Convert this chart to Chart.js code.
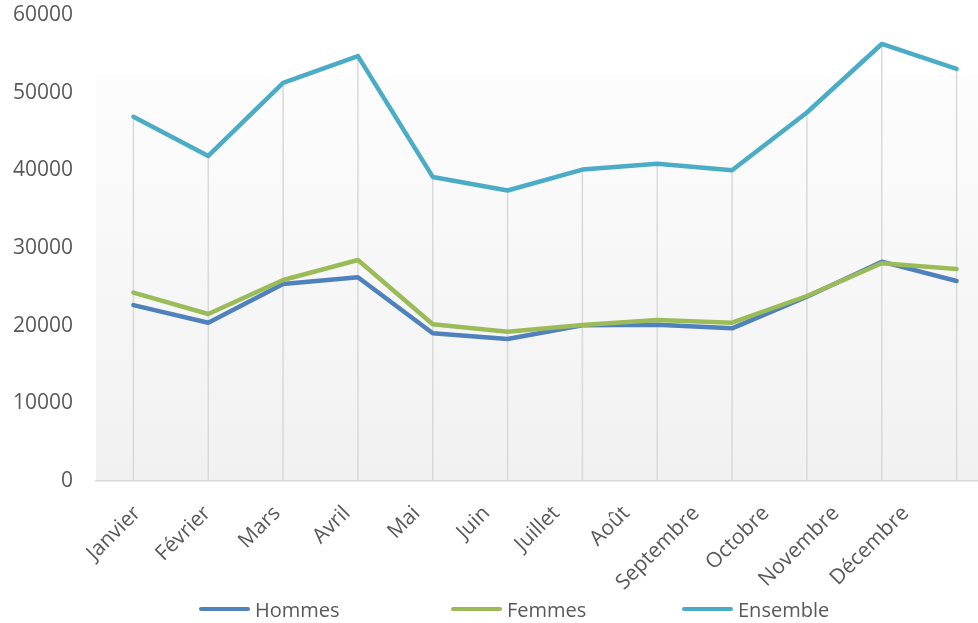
<!DOCTYPE html>
<html lang="fr">
<head>
    <meta charset="UTF-8">
    <script src="https://cdn.jsdelivr.net/npm/chart.js"></script>
    <style>
        body {
            margin: 0;
            background: #ffffff;
            font-family: "Open Sans", sans-serif;
        }

        #wrap {
            position: relative;
            width: 978px;
            height: 623px;
            overflow: hidden;
        }

        #legend {
            position: absolute;
            top: 597px;
            left: 0;
            height: 24px;
        }

        .legend-item {
            position: absolute;
            top: 0;
            display: flex;
            align-items: center;
            height: 24px;
            white-space: nowrap;
            font-size: 20px;
            color: #595959;
        }

        .legend-item span.swatch {
            display: inline-block;
            width: 51px;
            height: 4.5px;
            border-radius: 3px;
            margin-right: 5px;
        }
    </style>
    <title>Hommes, Femmes, Ensemble par mois</title>
</head>
<body>
    <div id="wrap">
        <canvas id="chart" width="1065" height="623"></canvas>
        <div id="legend"></div>
    </div>
    <script>
        // data
        const months = ["Janvier", "Février", "Mars", "Avril", "Mai", "Juin",
            "Juillet", "Août", "Septembre", "Octobre", "Novembre", "Décembre"];
        const hommes = [22650, 20380, 25370, 26230, 19020, 18280, 20050, 20120, 19660, 23730, 28240, 25750];
        const femmes = [24250, 21500, 25880, 28460, 20180, 19220, 20100, 20730, 20380, 23820, 28030, 27300];
        const ensemble = [46900, 41850, 51250, 54700, 39150, 37400, 40100, 40850, 40000, 47450, 56270, 53050];
        const seriesNames = ["Hommes", "Femmes", "Ensemble"];
        const seriesColors = ["#4f81bd", "#9bbb59", "#4bacc6"];
        const legendLefts = [199, 451, 682];

        const textColor = "#595959";
        const lineColor = "#d9d9d9";

        // soft grey gradient behind the plot
        const plotBackground = {
            id: "plotBackground",
            beforeDraw(chart) {
                const { ctx, chartArea } = chart;
                const g = ctx.createLinearGradient(0, chartArea.top, 0, chartArea.bottom);
                g.addColorStop(0, "#ffffff");
                g.addColorStop(0.12, "#fdfdfd");
                g.addColorStop(1, "#f1f1f1");
                ctx.save();
                ctx.fillStyle = g;
                ctx.fillRect(chartArea.left, chartArea.top + 60, chartArea.right - chartArea.left, chartArea.bottom - chartArea.top - 60);
                ctx.restore();
            }
        };

        // the month labels sit a little tighter than the months themselves
        const labelDrift = {
            id: "labelDrift",
            beforeDraw(chart) {
                const items = chart.scales.x.getLabelItems();
                if (items._shifted) return;
                items.forEach((item, i) => {
                    if (item.options && item.options.translation) {
                        item.options.translation[0] += 4 - 5 * i;
                    }
                });
                items._shifted = true;
            }
        };

        // drop lines from the highest point of each month down to the axis
        const dropLines = {
            id: "dropLines",
            beforeDatasetsDraw(chart) {
                const { ctx, scales } = chart;
                ctx.save();
                ctx.strokeStyle = lineColor;
                ctx.lineWidth = 1.5;
                months.forEach((m, i) => {
                    const top = Math.max(hommes[i], femmes[i], ensemble[i]);
                    const x = scales.x.getPixelForValue(i);
                    ctx.beginPath();
                    ctx.moveTo(x, scales.y.getPixelForValue(top));
                    ctx.lineTo(x, scales.y.getPixelForValue(0));
                    ctx.stroke();
                });
                ctx.restore();
            }
        };

        const allSeries = [hommes, femmes, ensemble];

        new Chart(document.getElementById("chart"), {
            type: "line",
            data: {
                labels: months,
                datasets: allSeries.map((values, i) => ({
                    label: seriesNames[i],
                    data: values,
                    borderColor: seriesColors[i],
                    backgroundColor: seriesColors[i],
                    borderWidth: 4.5,
                    borderCapStyle: "round",
                    borderJoinStyle: "round",
                    pointRadius: 0,
                    tension: 0,
                    order: 3 - i
                }))
            },
            options: {
                responsive: false,
                animation: false,
                layout: {
                    padding: { top: 15, right: 71, bottom: 22, left: 0 }
                },
                plugins: {
                    legend: { display: false },
                    tooltip: { enabled: false }
                },
                scales: {
                    x: {
                        offset: true,
                        clip: false,
                        grid: { display: false, drawTicks: false },
                        border: { color: lineColor, width: 1.5 },
                        ticks: {
                            color: textColor,
                            font: { family: "Open Sans", size: 21 },
                            minRotation: 45,
                            maxRotation: 45,
                            padding: 20,
                            autoSkip: false
                        },
                        afterFit(scale) {
                            scale.height = 120;
                        }
                    },
                    y: {
                        min: 0,
                        max: 60000,
                        grid: { display: false, drawTicks: false },
                        border: { display: false },
                        ticks: {
                            stepSize: 10000,
                            color: textColor,
                            font: { family: "Open Sans", size: 21 },
                            padding: 23,
                            callback: (v) => String(v)
                        },
                        afterFit(scale) {
                            scale.width = 96;
                            scale.paddingTop = 0;
                            scale.paddingBottom = 0;
                        }
                    }
                }
            },
            plugins: [plotBackground, labelDrift, dropLines]
        });

        // legend as plain html, built from the series arrays
        const legendDiv = document.getElementById("legend");
        seriesNames.forEach((name, i) => {
            const item = document.createElement("div");
            item.className = "legend-item";
            item.style.left = legendLefts[i] + "px";
            item.innerHTML = `<span class="swatch" style="background:${seriesColors[i]}"></span>${name}`;
            legendDiv.appendChild(item);
        });
    </script>
</body>
</html>
